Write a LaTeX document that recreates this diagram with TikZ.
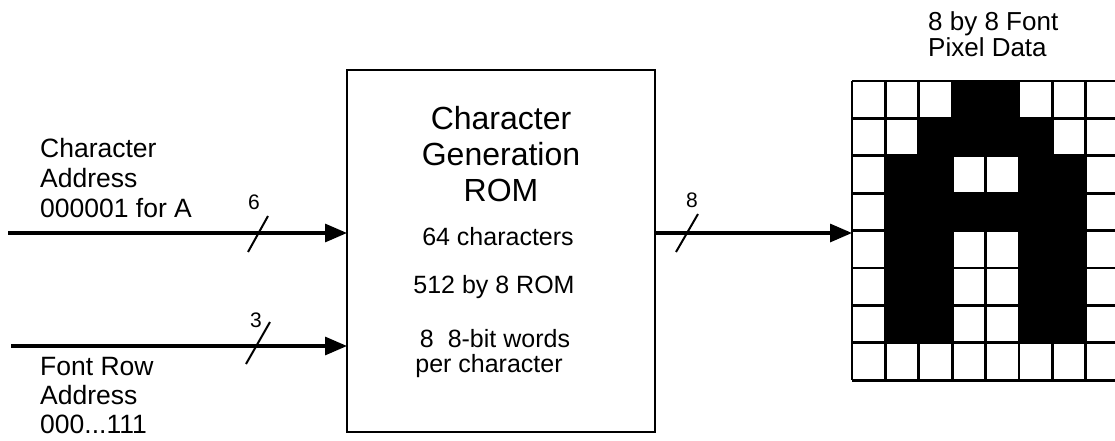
\documentclass[tikz,border=0pt]{standalone}
\usepackage{fontspec}
\setmainfont{Liberation Sans}
\usetikzlibrary{arrows.meta}
\begin{document}
\begin{tikzpicture}[x=1pt,y=-1pt,
  bus/.style={line width=3.2pt,-{Triangle[length=22pt,width=18pt]}},
  slashmark/.style={line width=2pt},
  lbl/.style={inner sep=0pt,align=left,anchor=north west,font=\fontsize{26.5}{30}\selectfont},
  wid/.style={inner sep=0pt,font=\fontsize{21}{21}\selectfont},
  romtxt/.style={inner sep=0pt,font=\fontsize{25}{25}\selectfont,anchor=base},
  pixtxt/.style={inner sep=0pt,font=\fontsize{26}{26}\selectfont,anchor=base west},
  cell/.style={fill=black},
  gridline/.style={line width=2.8pt}]

\useasboundingbox (0,0) rectangle (1115,441);

% ROM box
\node[draw,line width=2.5pt,outer sep=0pt,inner sep=0pt,minimum width=308pt,minimum height=362pt,anchor=north west] (rom) at (347,70) {};
\node[anchor=north,align=center,inner sep=0pt,font=\fontsize{32}{36}\selectfont] (title) at (501,106) {Character\\Generation\\ROM};
\node[romtxt] (t1) at (498,245) {64 characters};
\node[romtxt] (t2) at (494,293) {512 by 8 ROM};
\node[romtxt] (t3) at (495,347) {8\ \ 8-bit words};
\node[romtxt] (t4) at (489,372) {per character};

% left labels
\node[lbl] (caddr) at (40,138) {Character\\Address\\000001 for A};
\node[lbl,font=\fontsize{26.5}{29}\selectfont] (faddr) at (40,357) {Font Row\\Address\\000...111};

% input buses
\coordinate (in1) at (8,233);
\coordinate (in2) at (11,346);
\draw[bus] (in1) -- (in1 -| rom.west);
\draw[bus] (in2) -- (in2 -| rom.west);
\coordinate (s1) at (258,234);
\coordinate (s2) at (258,344);
\draw[slashmark] ([shift={(-10,18)}]s1) -- ([shift={(10,-18)}]s1);
\draw[slashmark] ([shift={(-12,20)}]s2) -- ([shift={(12,-22)}]s2);
\node[wid] (w1) at (254,202) {6};
\node[wid] (w2) at (256,320) {3};

% output bus
\coordinate (gw) at (852,233);
\draw[bus] (rom.east |- gw) -- (gw);
\coordinate (s3) at (687,233);
\draw[slashmark] ([shift={(-11,19)}]s3) -- ([shift={(11,-19)}]s3);
\node[wid] (w3) at (692,200) {8};

% pixel grid
\node[pixtxt] (pix1) at (928,30.5) {8 by 8 Font};
\node[pixtxt] (pix2) at (928,57) {Pixel Data};
\foreach \c/\r in {3/0,4/0, 2/1,3/1,4/1,5/1, 1/2,2/2,5/2,6/2, 1/3,2/3,3/3,4/3,5/3,6/3,
                   1/4,2/4,5/4,6/4, 1/5,2/5,5/5,6/5, 1/6,2/6,5/6,6/6}
  \fill[cell] ({852+33.4*\c},{81+37.4*\r}) rectangle ({852+33.4*(\c+1)},{81+37.4*(\r+1)});
\foreach \k in {0,...,8}
  \draw[gridline] (852,{81+37.4*\k}) -- (1115,{81+37.4*\k});
\foreach \k in {0,...,7}
  \draw[gridline] ({852+33.4*\k},81) -- ({852+33.4*\k},380.2);
\end{tikzpicture}
\end{document}
